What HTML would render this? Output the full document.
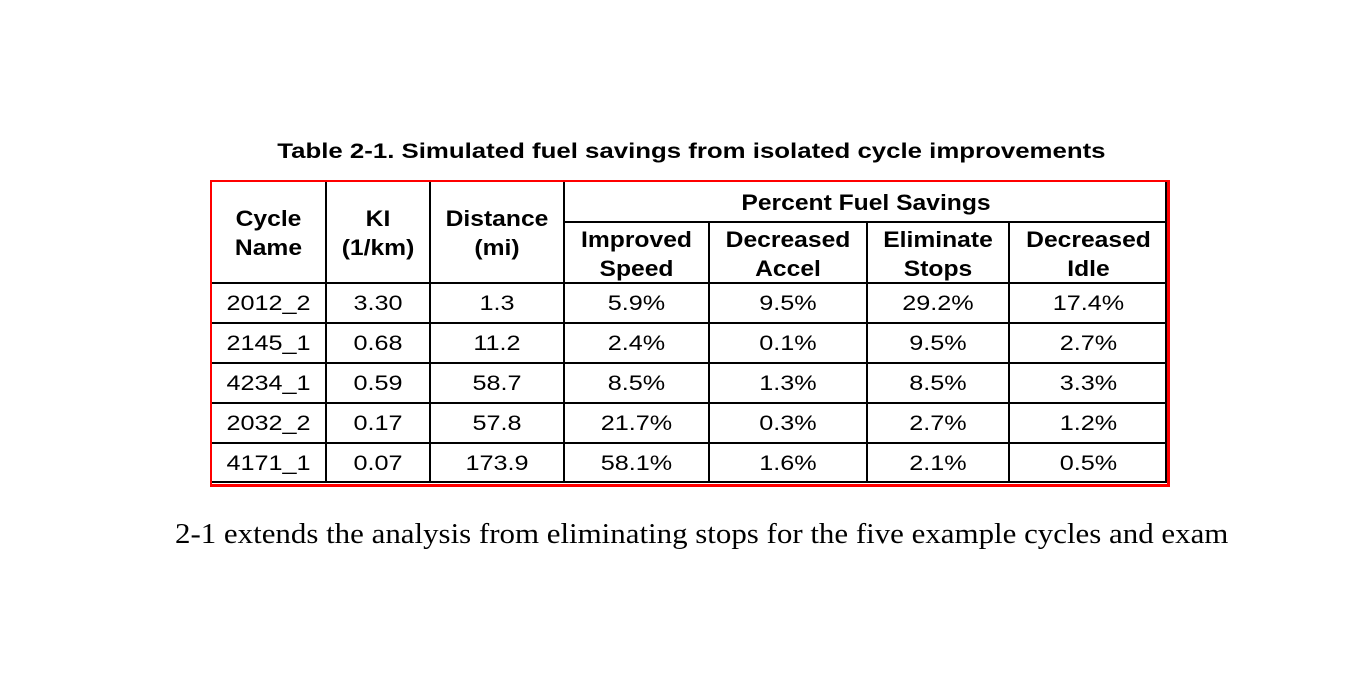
<!DOCTYPE html>
<html><head><style>
body{margin:0;width:1366px;height:674px;background:#fff;position:relative;overflow:hidden;font-family:"Liberation Sans",Arial,sans-serif;}
.a{position:absolute;}
.t{position:absolute;text-align:center;color:#000;font-size:21px;line-height:29px;transform:scaleX(1.2);}
.h{font-weight:bold;font-size:22px;transform:scaleX(1.12);}
.v{position:absolute;background:#000;width:2px;}
.hl{position:absolute;background:#000;height:2px;}
</style></head><body>
<div class="a" style="left:0;width:1366px;top:139px;text-align:center;font-weight:bold;font-size:21.5px;padding-left:14px;box-sizing:border-box;transform:scaleX(1.2)">Table 2-1. Simulated fuel savings from isolated cycle improvements</div>
<div class="a" style="left:210px;top:180px;width:955px;height:302px;border:2px solid #f00;border-right-width:3px;border-bottom-width:3px"></div>
<div class="a" style="left:212px;top:182px;width:953px;height:299px;border-right:2px solid #000;border-bottom:2px solid #000"></div>
<div class="v" style="left:325px;top:182px;height:300px"></div>
<div class="v" style="left:429px;top:182px;height:300px"></div>
<div class="v" style="left:563px;top:182px;height:300px"></div>
<div class="v" style="left:708px;top:221px;height:261px"></div>
<div class="v" style="left:866px;top:221px;height:261px"></div>
<div class="v" style="left:1008px;top:221px;height:261px"></div>
<div class="hl" style="left:563px;width:604px;top:221px"></div>
<div class="hl" style="left:212px;width:955px;top:282px"></div>
<div class="hl" style="left:212px;width:955px;top:322px"></div>
<div class="hl" style="left:212px;width:955px;top:362px"></div>
<div class="hl" style="left:212px;width:955px;top:402px"></div>
<div class="hl" style="left:212px;width:955px;top:442px"></div>
<div class="t h" style="left:212px;width:113px;top:204px">Cycle<br>Name</div>
<div class="t h" style="left:327px;width:102px;top:204px">KI<br>(1/km)</div>
<div class="t h" style="left:431px;width:132px;top:204px">Distance<br>(mi)</div>
<div class="t h" style="left:565px;width:602px;top:188px">Percent Fuel Savings</div>
<div class="t h" style="left:565px;width:143px;top:225px">Improved<br>Speed</div>
<div class="t h" style="left:710px;width:156px;top:225px">Decreased<br>Accel</div>
<div class="t h" style="left:868px;width:140px;top:225px">Eliminate<br>Stops</div>
<div class="t h" style="left:1010px;width:157px;top:225px">Decreased<br>Idle</div>
<div id="rows"></div>
<div class="a" style="left:175px;top:518px;font-family:'Liberation Serif',serif;font-size:29px;white-space:nowrap;transform:scaleX(1.066);transform-origin:0 0">2-1 extends the analysis from eliminating stops for the five example cycles and exam</div>
<script>
var d=[["2012_2","3.30","1.3","5.9%","9.5%","29.2%","17.4%"],["2145_1","0.68","11.2","2.4%","0.1%","9.5%","2.7%"],["4234_1","0.59","58.7","8.5%","1.3%","8.5%","3.3%"],["2032_2","0.17","57.8","21.7%","0.3%","2.7%","1.2%"],["4171_1","0.07","173.9","58.1%","1.6%","2.1%","0.5%"]];
var c=[[212,113],[327,102],[431,132],[565,143],[710,156],[868,140],[1010,157]];
var h="";d.forEach(function(r,i){r.forEach(function(v,j){h+='<div class="t" style="left:'+c[j][0]+'px;width:'+c[j][1]+'px;top:'+(289+i*40)+'px">'+v+'</div>';});});
document.getElementById("rows").innerHTML=h;
</script>
</body></html>
